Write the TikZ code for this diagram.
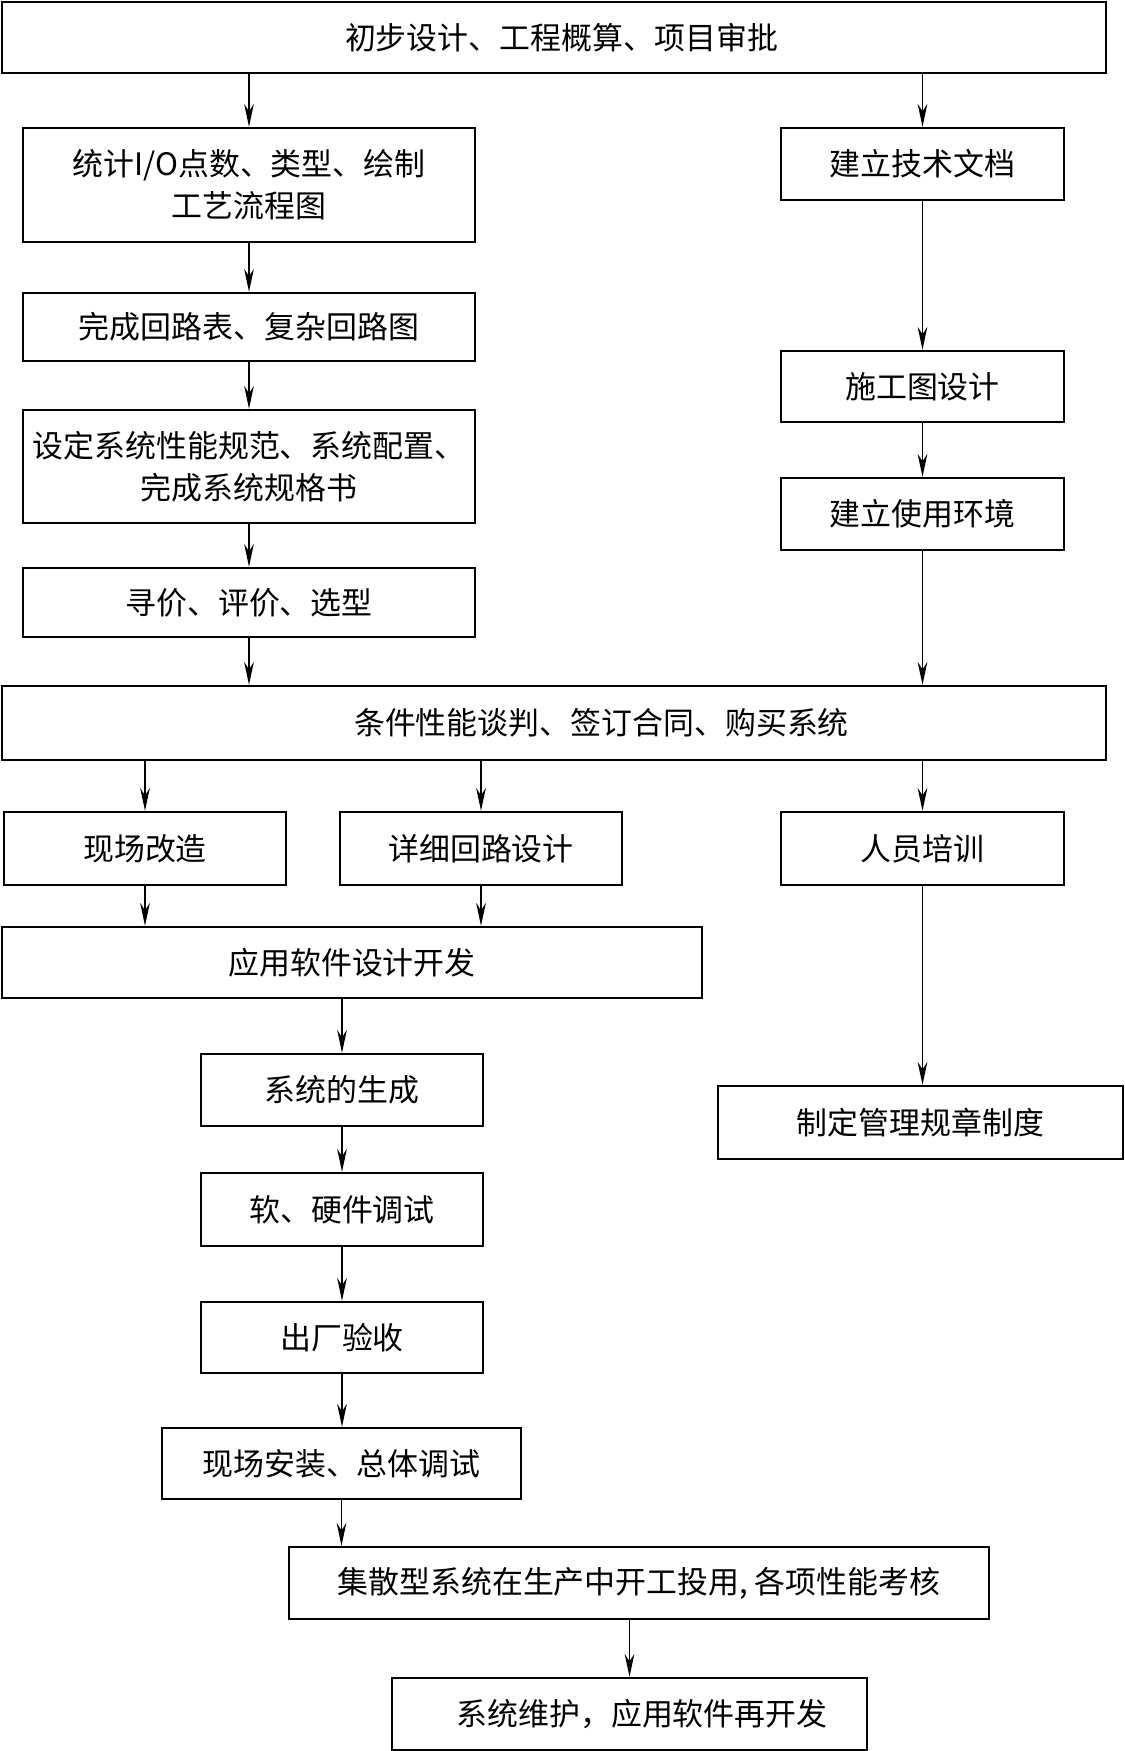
\documentclass[tikz,border=0pt]{standalone}
\usepackage{fontspec}
\newfontfamily\cjk{Noto Sans CJK SC}
\usepackage{tikz}
\usetikzlibrary{arrows.meta, positioning, calc}

\begin{document}
\begin{tikzpicture}[x=0.02cm, y=-0.02cm,
    blk/.style={draw, line width=1.4pt, rectangle, align=center, inner sep=2pt,
      font=\cjk\fontsize{17.6}{24}\selectfont},
    arr/.style={line width=0.9pt, -{Stealth[length=13pt, width=5.5pt]}}]
        \useasboundingbox (0,0) rectangle (1125,1751);
        \node[blk, minimum width=22.08cm, minimum height=1.42cm] (top) at (554,37.5) {\hspace*{0.3cm}初步设计、工程概算、项目审批};
        \node[blk, minimum width=9.04cm, minimum height=2.28cm] (io) at (249,185) {统计I/O点数、类型、绘制\\工艺流程图};
        \node[blk, minimum width=9.04cm, minimum height=1.36cm] (loop) at (249,327) {完成回路表、复杂回路图};
        \node[blk, minimum width=9.04cm, minimum height=2.26cm] (spec) at (249,466.5) {设定系统性能规范、系统配置、\\完成系统规格书};
        \node[blk, minimum width=9.04cm, minimum height=1.38cm] (price) at (249,602.5) {寻价、评价、选型};
        \node[blk, minimum width=5.66cm, minimum height=1.44cm] (doc) at (922.5,164) {建立技术文档};
        \node[blk, minimum width=5.66cm, minimum height=1.42cm] (plan) at (922.5,386.5) {施工图设计};
        \node[blk, minimum width=5.66cm, minimum height=1.44cm] (env) at (922.5,514) {建立使用环境};
        \node[blk, minimum width=22.08cm, minimum height=1.48cm] (buy) at (554,723) {\hspace*{1.9cm}条件性能谈判、签订合同、购买系统};
        \node[blk, minimum width=5.64cm, minimum height=1.46cm] (site) at (145,848.5) {现场改造};
        \node[blk, minimum width=5.64cm, minimum height=1.46cm] (loopd) at (481,848.5) {详细回路设计};
        \node[blk, minimum width=5.66cm, minimum height=1.46cm] (train) at (922.5,848.5) {人员培训};
        \node[blk, minimum width=14.0cm, minimum height=1.42cm] (app) at (352,962.5) {应用软件设计开发};
        \node[blk, minimum width=5.64cm, minimum height=1.44cm] (gen) at (342,1090) {系统的生成};
        \node[blk, minimum width=8.1cm, minimum height=1.46cm] (rule) at (920.5,1122.5) {制定管理规章制度};
        \node[blk, minimum width=5.64cm, minimum height=1.46cm] (debug) at (342,1209.5) {软、硬件调试};
        \node[blk, minimum width=5.64cm, minimum height=1.42cm] (accept) at (342,1337.5) {出厂验收};
        \node[blk, minimum width=7.18cm, minimum height=1.42cm] (install) at (341.5,1463.5) {现场安装、总体调试};
        \node[blk, minimum width=14.0cm, minimum height=1.44cm] (run) at (639,1583) {集散型系统在生产中开工投用, 各项性能考核};
        \node[blk, minimum width=9.5cm, minimum height=1.44cm] (maint) at (629.5,1714) {\hspace*{0.5cm}系统维护，应用软件再开发};
        \draw[arr] (top.south -| io) -- (io.north);
        \draw[arr] (top.south -| doc) -- (doc.north);
        \draw[arr] (io) -- (loop);
        \draw[arr] (loop) -- (spec);
        \draw[arr] (spec) -- (price);
        \draw[arr] (price.south) -- (price.south |- buy.north);
        \draw[arr] (doc) -- (plan);
        \draw[arr] (plan) -- (env);
        \draw[arr] (env.south) -- (env.south |- buy.north);
        \draw[arr] (buy.south -| site) -- (site.north);
        \draw[arr] (buy.south -| loopd) -- (loopd.north);
        \draw[arr] (buy.south -| train) -- (train.north);
        \draw[arr] (site.south) -- (site.south |- app.north);
        \draw[arr] (loopd.south) -- (loopd.south |- app.north);
        \draw[arr] (train.south) -- (train.south |- rule.north);
        \draw[arr] (app.south -| gen) -- (gen.north);
        \draw[arr] (gen) -- (debug);
        \draw[arr] (debug) -- (accept);
        \draw[arr] (accept.south) -- (accept.south |- install.north);
        \draw[arr] (install.south) -- (install.south |- run.north);
        \draw[arr] (run.south -| maint) -- (maint.north);
      \end{tikzpicture}
\end{document}
